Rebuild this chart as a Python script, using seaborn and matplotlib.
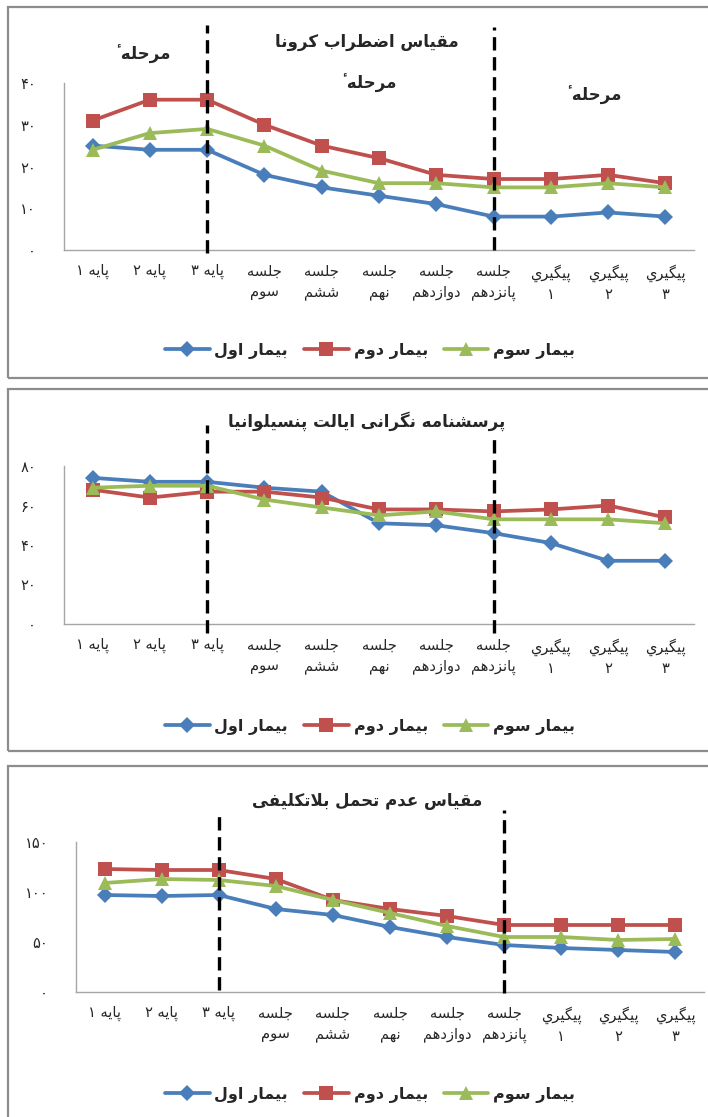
import numpy as np
import matplotlib
matplotlib.use('Agg')
import matplotlib.pyplot as plt
import seaborn as sns
from matplotlib.patches import Rectangle

# categories (sessions) and patients
categories = ['پایه ۱', 'پایه ۲', 'پایه ۳', 'جلسه\nسوم', 'جلسه\nششم', 'جلسه\nنهم',
              'جلسه\nدوازدهم', 'جلسه\nپانزدهم', 'پیگیري\n۱', 'پیگیري\n۲', 'پیگیري\n۳']
patients = ['بیمار اول', 'بیمار دوم', 'بیمار سوم']

# corona anxiety scale
corona_p1 = [25, 24, 24, 18, 15, 13, 11, 8, 8, 9, 8]
corona_p2 = [31, 36, 36, 30, 25, 22, 18, 17, 17, 18, 16]
corona_p3 = [24, 28, 29, 25, 19, 16, 16, 15, 15, 16, 15]
corona_ticks = [0, 10, 20, 30, 40]

# penn state worry questionnaire
pswq_p1 = [74, 72, 72, 69, 67, 51, 50, 46, 41, 32, 32]
pswq_p2 = [68, 64, 67, 67, 64, 58, 58, 57, 58, 60, 54]
pswq_p3 = [69, 70, 70, 63, 59, 55, 57, 53, 53, 53, 51]
pswq_ticks = [0, 20, 40, 60, 80]

# intolerance of uncertainty scale
ius_p1 = [97, 96, 97, 83, 77, 65, 55, 47, 44, 42, 40]
ius_p2 = [123, 122, 122, 113, 92, 83, 76, 67, 67, 67, 67]
ius_p3 = [109, 113, 112, 106, 92, 79, 66, 55, 55, 52, 53]
ius_ticks = [0, 50, 100, 150]

titles = ['مقیاس اضطراب کرونا', 'پرسشنامه نگرانی ایالت پنسیلوانیا', 'مقیاس عدم تحمل بلاتکلیفی']
phase_label = 'مرحلهٴ'

# --- tiny arabic/persian shaper (matplotlib has no text shaping) ---
FORMS = {
    'ا': ('\uFE8D', '\uFE8E', None, None),
    'ب': ('\uFE8F', '\uFE90', '\uFE91', '\uFE92'),
    'پ': ('\uFB56', '\uFB57', '\uFB58', '\uFB59'),
    'ت': ('\uFE95', '\uFE96', '\uFE97', '\uFE98'),
    'ج': ('\uFE9D', '\uFE9E', '\uFE9F', '\uFEA0'),
    'ح': ('\uFEA1', '\uFEA2', '\uFEA3', '\uFEA4'),
    'د': ('\uFEA9', '\uFEAA', None, None),
    'ر': ('\uFEAD', '\uFEAE', None, None),
    'ز': ('\uFEAF', '\uFEB0', None, None),
    'س': ('\uFEB1', '\uFEB2', '\uFEB3', '\uFEB4'),
    'ش': ('\uFEB5', '\uFEB6', '\uFEB7', '\uFEB8'),
    'ض': ('\uFEBD', '\uFEBE', '\uFEBF', '\uFEC0'),
    'ط': ('\uFEC1', '\uFEC2', '\uFEC3', '\uFEC4'),
    'ع': ('\uFEC9', '\uFECA', '\uFECB', '\uFECC'),
    'ف': ('\uFED1', '\uFED2', '\uFED3', '\uFED4'),
    'ق': ('\uFED5', '\uFED6', '\uFED7', '\uFED8'),
    'ک': ('\uFB8E', '\uFB8F', '\uFB90', '\uFB91'),
    'گ': ('\uFB92', '\uFB93', '\uFB94', '\uFB95'),
    'ل': ('\uFEDD', '\uFEDE', '\uFEDF', '\uFEE0'),
    'م': ('\uFEE1', '\uFEE2', '\uFEE3', '\uFEE4'),
    'ن': ('\uFEE5', '\uFEE6', '\uFEE7', '\uFEE8'),
    'ه': ('\uFEE9', '\uFEEA', '\uFEEB', '\uFEEC'),
    'و': ('\uFEED', '\uFEEE', None, None),
    'ی': ('\uFBFC', '\uFBFD', '\uFBFE', '\uFBFF'),
    'ي': ('\uFEF1', '\uFEF2', '\uFEF3', '\uFEF4'),
}
MARKS = '\u0654\u064B\u064C\u064D\u064E\u064F\u0650\u0651\u0652'
DIGITS = '۰۱۲۳۴۵۶۷۸۹0123456789'


def shape_line(line):
    items = []
    for ch in line:
        if ch in MARKS and items:
            items[-1][1] += ch
        else:
            items.append([ch, ''])
    glyphs = []
    i = 0
    while i < len(items):
        ch, mk = items[i]
        prev = items[i - 1][0] if i > 0 else ''
        nxt = items[i + 1][0] if i + 1 < len(items) else ''
        jp = prev in FORMS and FORMS[prev][2] is not None and ch in FORMS
        if ch == 'ل' and nxt == 'ا':
            glyphs.append(('\uFEFC' if jp else '\uFEFB') + mk + items[i + 1][1])
            i += 2
            continue
        if ch in FORMS:
            iso, fin, ini, med = FORMS[ch]
            jn = ini is not None and nxt in FORMS
            g = med if (jp and jn) else fin if jp else ini if jn else iso
            glyphs.append(g + mk)
        else:
            glyphs.append(ch + mk)
        i += 1
    # visual order (right to left), digit runs keep their order
    tokens = []
    for g in glyphs:
        if g in DIGITS and tokens and tokens[-1][-1] in DIGITS:
            tokens[-1] += g
        else:
            tokens.append(g)
    return ''.join(reversed(tokens))


def shape(text):
    return '\n'.join(shape_line(l) for l in text.split('\n'))


def fa(n):
    return str(n).translate(str.maketrans('0123456789', '۰۱۲۳۴۵۶۷۸۹'))


sns.set_theme(style='white')
plt.rcParams['font.family'] = ['DejaVu Sans']

W, H = 708, 1117
fig = plt.figure(figsize=(W / 100, H / 100), dpi=100)
fig.patch.set_facecolor('white')

colors = ['#4A7EBB', '#C0504D', '#9BBB59']
markers = ['D', 's', '^']
msizes = [8.5, 9.5, 10]


def fx(px):
    return px / W


def fy(py):
    return 1 - py / H


def panel(left, right, top, bottom, series, ticks, title, title_y, legend_y,
          dash_lo, dash_hi, box_top, box_bottom):
    ax = fig.add_axes([fx(left), fy(bottom), fx(right - left), (bottom - top) / H])
    x = np.arange(len(categories))
    for vals, name, c, m, ms in zip(series, patients, colors, markers, msizes):
        sns.lineplot(x=x, y=vals, ax=ax, color=c, marker=m, markersize=ms,
                     linewidth=2.7, markeredgewidth=0, label=shape(name))
    ax.set_xlim(-0.5, len(categories) - 0.5)
    ax.set_ylim(ticks[0], ticks[-1])
    ax.set_xticks(x)
    ax.set_xticklabels([shape(c) for c in categories], fontsize=10.5, linespacing=1.45)
    ax.set_yticks(ticks)
    ax.set_yticklabels([fa(t) for t in ticks], fontsize=10.5)
    ax.tick_params(axis='both', length=0)
    ax.tick_params(axis='y', pad=20)
    ax.tick_params(axis='x', pad=10)
    for s in ['top', 'right']:
        ax.spines[s].set_visible(False)
    for s in ['left', 'bottom']:
        ax.spines[s].set_color('#A6A6A6')
        ax.spines[s].set_linewidth(1.0)
    ax.set_xlabel('')
    ax.set_ylabel('')
    # phase separators
    h = bottom - top
    for xi, lo, hi in zip([2, 7], dash_lo, dash_hi):
        ax.axvline(xi, ymin=(bottom - lo) / h, ymax=(bottom - hi) / h, color='black',
                   lw=2.4, dashes=(4, 2), clip_on=False, zorder=5)
    ax.legend(loc='center', bbox_to_anchor=(fx(370), fy(legend_y)),
              bbox_transform=fig.transFigure, ncol=3, frameon=False,
              handlelength=2.8, handletextpad=0.3, columnspacing=1.0,
              prop={'weight': 'bold', 'size': 11.5})
    fig.text(fx(367), fy(title_y), shape(title), ha='center', va='center',
             fontsize=12, fontweight='bold')
    fig.add_artist(Rectangle((fx(8), fy(box_bottom)), 1.0, (box_bottom - box_top) / H,
                             transform=fig.transFigure, fill=False,
                             edgecolor='#8C8C8C', lw=1.6))
    return ax


panel(64, 694, 83, 250, [corona_p1, corona_p2, corona_p3], corona_ticks, titles[0],
      42, 351, [253, 250], [25, 27], 7, 378)
for px, py in [(143, 54), (369, 83), (594, 95)]:
    fig.text(fx(px), fy(py), shape(phase_label), ha='center', va='center',
             fontsize=12, fontweight='bold')

panel(64, 694, 466, 624, [pswq_p1, pswq_p2, pswq_p3], pswq_ticks, titles[1],
      421, 727, [633, 633], [425, 435], 389, 751)

panel(76, 704, 842, 992, [ius_p1, ius_p2, ius_p3], ius_ticks, titles[2],
      801, 1095, [990, 993], [810, 810], 766, 1125)

fig.savefig('out.png', dpi=100, facecolor='white')
